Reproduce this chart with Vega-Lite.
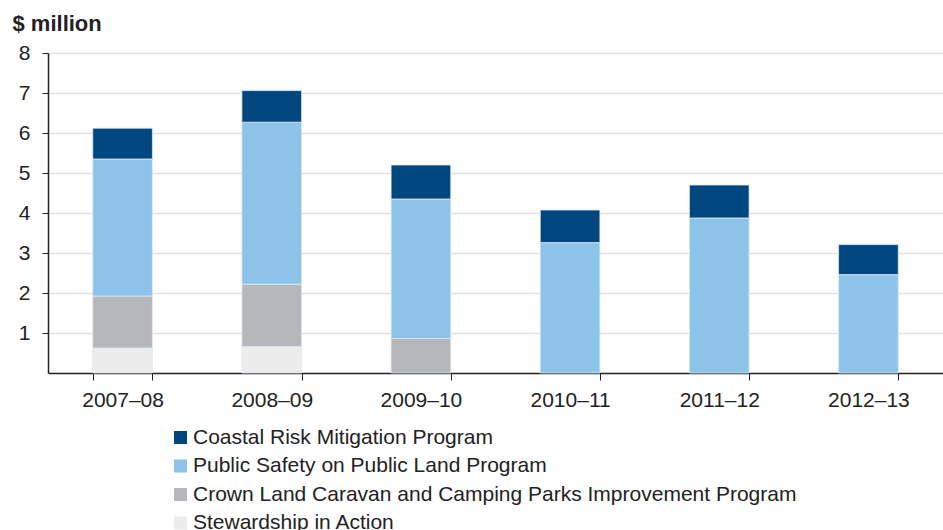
{
  "$schema": "https://vega.github.io/schema/vega-lite/v6.json",
  "width": 895,
  "height": 320,
  "autosize": "none",
  "padding": {"left": 48, "top": 53, "right": 0, "bottom": 157},
  "background": "white",
  "data": {
    "values": [
      {"year": "2007–08", "program": "Stewardship in Action", "value": 0.625, "ord": 1},
      {"year": "2007–08", "program": "Crown Land Caravan and Camping Parks Improvement Program", "value": 1.3, "ord": 2},
      {"year": "2007–08", "program": "Public Safety on Public Land Program", "value": 3.425, "ord": 3},
      {"year": "2007–08", "program": "Coastal Risk Mitigation Program", "value": 0.77, "ord": 4},
      {"year": "2008–09", "program": "Stewardship in Action", "value": 0.66, "ord": 1},
      {"year": "2008–09", "program": "Crown Land Caravan and Camping Parks Improvement Program", "value": 1.56, "ord": 2},
      {"year": "2008–09", "program": "Public Safety on Public Land Program", "value": 4.05, "ord": 3},
      {"year": "2008–09", "program": "Coastal Risk Mitigation Program", "value": 0.79, "ord": 4},
      {"year": "2009–10", "program": "Crown Land Caravan and Camping Parks Improvement Program", "value": 0.865, "ord": 2},
      {"year": "2009–10", "program": "Public Safety on Public Land Program", "value": 3.485, "ord": 3},
      {"year": "2009–10", "program": "Coastal Risk Mitigation Program", "value": 0.85, "ord": 4},
      {"year": "2010–11", "program": "Public Safety on Public Land Program", "value": 3.26, "ord": 3},
      {"year": "2010–11", "program": "Coastal Risk Mitigation Program", "value": 0.815, "ord": 4},
      {"year": "2011–12", "program": "Public Safety on Public Land Program", "value": 3.875, "ord": 3},
      {"year": "2011–12", "program": "Coastal Risk Mitigation Program", "value": 0.825, "ord": 4},
      {"year": "2012–13", "program": "Public Safety on Public Land Program", "value": 2.46, "ord": 3},
      {"year": "2012–13", "program": "Coastal Risk Mitigation Program", "value": 0.75, "ord": 4}
    ]
  },
  "mark": {"type": "bar", "stroke": "#dfe9f2", "strokeWidth": 0.8},
  "encoding": {
    "x": {
      "field": "year", "type": "nominal", "sort": null,
      "scale": {"paddingInner": 0.6, "paddingOuter": 0.3},
      "axis": {
        "title": null, "labelAngle": 0, "tickBand": "extent",
        "labelFont": "Liberation Sans", "labelFontSize": 21, "labelColor": "#222222",
        "labelPadding": 9, "tickSize": 7, "domainColor": "#222222", "tickColor": "#222222",
        "domainWidth": 1.5, "tickWidth": 1
      }
    },
    "y": {
      "field": "value", "type": "quantitative", "stack": "zero",
      "scale": {"domain": [0, 8], "nice": false},
      "axis": {
        "values": [1, 2, 3, 4, 5, 6, 7, 8],
        "title": "$ million", "titleAngle": 0, "titleAlign": "left", "titleBaseline": "alphabetic",
        "titleX": -36, "titleY": -23, "titleFont": "Liberation Sans", "titleFontSize": 22,
        "titleFontWeight": "bold", "titleColor": "#222222",
        "labelFont": "Liberation Sans", "labelFontSize": 21, "labelColor": "#222222",
        "labelPadding": 12, "tickSize": 6, "grid": true, "gridColor": "#e2e2e2", "gridWidth": 1.5,
        "domainColor": "#222222", "tickColor": "#222222", "domainWidth": 1.5
      }
    },
    "color": {
      "field": "program", "type": "nominal",
      "scale": {
        "domain": ["Coastal Risk Mitigation Program", "Public Safety on Public Land Program", "Crown Land Caravan and Camping Parks Improvement Program", "Stewardship in Action"],
        "range": ["#00467f", "#8ec3e9", "#b6b7ba", "#ececec"]
      },
      "legend": {
        "title": null, "orient": "none", "legendX": 122, "legendY": 374,
        "symbolType": "square", "symbolSize": 170, "symbolStrokeWidth": 0,
        "labelFont": "Liberation Sans", "labelFontSize": 21, "labelColor": "#222222",
        "labelOffset": 2, "rowPadding": 6.5, "labelLimit": 800
      }
    },
    "order": {"field": "ord", "type": "quantitative"}
  },
  "config": {"view": {"stroke": null}}
}
